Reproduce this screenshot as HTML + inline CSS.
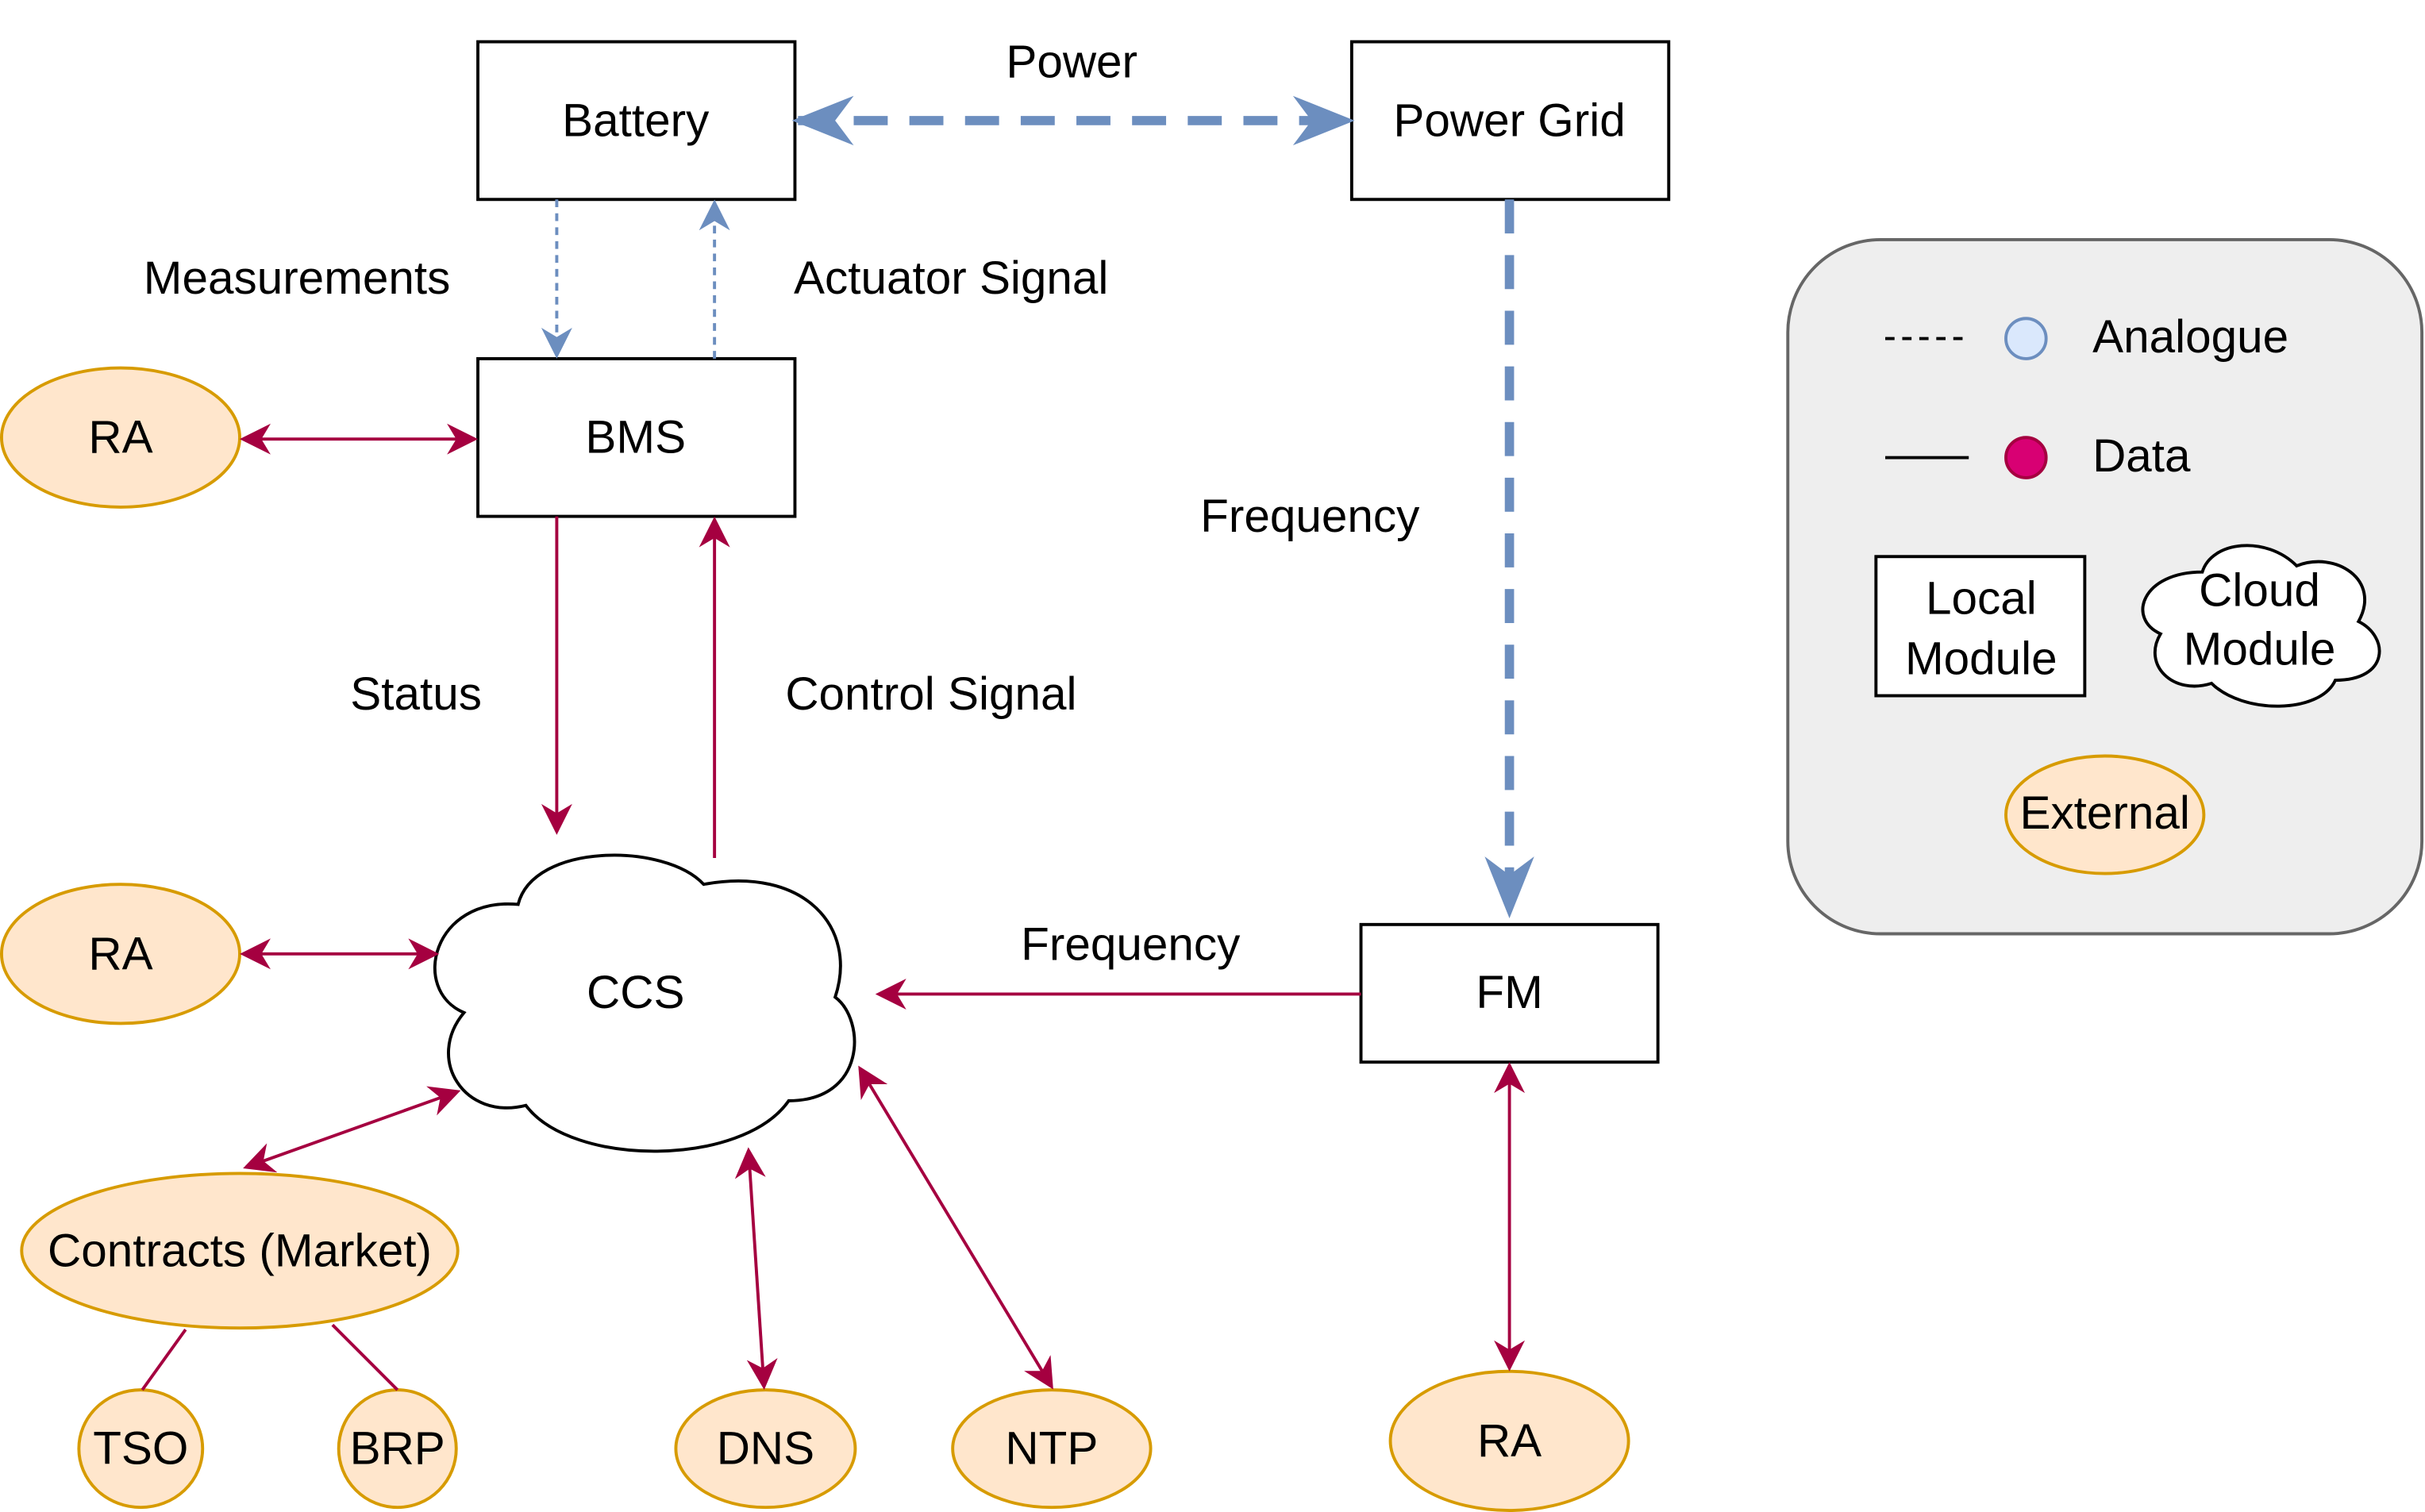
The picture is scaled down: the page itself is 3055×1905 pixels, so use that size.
<!DOCTYPE html>
<html><head><meta charset="utf-8"><style>
html,body{margin:0;padding:0;background:#fff;}
svg{display:block;}
text{font-family:"Liberation Sans",sans-serif;font-size:30px;fill:#000;text-anchor:middle;dominant-baseline:central;}
</style></head><body>
<svg width="3055" height="1905" viewBox="0 0 1568 978" preserveAspectRatio="none" xmlns="http://www.w3.org/2000/svg">
<defs>
<marker id="bB" viewBox="0 0 10 10" refX="9" refY="5" markerWidth="40" markerHeight="40" orient="auto-start-reverse" markerUnits="userSpaceOnUse"><path d="M0,1 L10,5 L0,9 L3,5 Z" fill="#6c8ebf"/></marker>
<marker id="rA" viewBox="0 0 10 10" refX="9" refY="5" markerWidth="20" markerHeight="20" orient="auto-start-reverse" markerUnits="userSpaceOnUse"><path d="M0,0 L10,5 L0,10 L3,5 Z" fill="#a50040"/></marker>
<marker id="sA" viewBox="0 0 10 10" refX="9" refY="5" markerWidth="20" markerHeight="20" orient="auto-start-reverse" markerUnits="userSpaceOnUse"><path d="M0,0 L10,5 L0,10 L3,5 Z" fill="#6c8ebf"/></marker>
</defs>
<g fill="#fff" stroke="#000" stroke-width="2">
<rect x="309" y="27" width="205" height="102"/>
<rect x="874" y="27" width="205" height="102"/>
<rect x="309" y="232" width="205" height="102"/>
<rect x="880" y="598" width="192" height="89"/>
</g>
<text x="411" y="78">Battery</text>
<text x="976" y="78">Power Grid</text>
<text x="411" y="283">BMS</text>
<text x="976" y="642">FM</text>
<line x1="516" y1="78" x2="872" y2="78" stroke="#6c8ebf" stroke-width="6" stroke-dasharray="22,14" marker-start="url(#bB)" marker-end="url(#bB)"/>
<text x="693" y="40">Power</text>
<line x1="976" y1="129" x2="976" y2="590" stroke="#6c8ebf" stroke-width="6" stroke-dasharray="22,14" marker-end="url(#bB)"/>
<text x="847" y="334">Frequency</text>
<line x1="360" y1="129" x2="360" y2="230" stroke="#6c8ebf" stroke-width="2" stroke-dasharray="5,4" marker-end="url(#sA)"/>
<line x1="462" y1="232" x2="462" y2="131" stroke="#6c8ebf" stroke-width="2" stroke-dasharray="5,4" marker-end="url(#sA)"/>
<text x="192" y="180">Measurements</text>
<text x="615" y="180">Actuator Signal</text>
<rect x="1156" y="155" width="410" height="449" rx="60" fill="#eeeeee" stroke="#666" stroke-width="2"/>
<g fill="#ffe6cc" stroke="#d79b00" stroke-width="2">
<ellipse cx="78" cy="283" rx="77" ry="45"/>
<ellipse cx="78" cy="617" rx="77" ry="45"/>
<ellipse cx="155" cy="809" rx="141" ry="50"/>
<ellipse cx="91" cy="937" rx="40" ry="38"/>
<ellipse cx="257" cy="937" rx="38" ry="38"/>
<ellipse cx="495" cy="937" rx="58" ry="38"/>
<ellipse cx="680" cy="937" rx="64" ry="38"/>
<ellipse cx="976" cy="932" rx="77" ry="45"/>
<ellipse cx="1361" cy="527" rx="64" ry="38"/>
</g>
<text x="78" y="283">RA</text>
<text x="78" y="617">RA</text>
<text x="155" y="809">Contracts (Market)</text>
<text x="91" y="937">TSO</text>
<text x="257" y="937">BRP</text>
<text x="495" y="937">DNS</text>
<text x="680" y="937">NTP</text>
<text x="976" y="932">RA</text>
<path d="M335,585 C280,580 265,640 300,655 C275,685 300,725 340,715 C370,755 480,755 510,712 C560,712 560,660 540,645 C555,600 520,560 455,572 C430,545 345,545 335,585 Z" fill="#fff" stroke="#000" stroke-width="2"/>
<text x="411" y="642">CCS</text>
<g stroke="#a50040" stroke-width="2" fill="none">
<line x1="157" y1="284" x2="307" y2="284" marker-start="url(#rA)" marker-end="url(#rA)"/>
<line x1="360" y1="334" x2="360" y2="538" marker-end="url(#rA)"/>
<line x1="462" y1="555" x2="462" y2="336" marker-end="url(#rA)"/>
<line x1="157" y1="617" x2="282" y2="617" marker-start="url(#rA)" marker-end="url(#rA)"/>
<line x1="880" y1="643" x2="568" y2="643" marker-end="url(#rA)"/>
<line x1="159" y1="755" x2="296" y2="706" marker-start="url(#rA)" marker-end="url(#rA)"/>
<line x1="484" y1="744" x2="494" y2="897" marker-start="url(#rA)" marker-end="url(#rA)"/>
<line x1="556" y1="691" x2="680" y2="897" marker-start="url(#rA)" marker-end="url(#rA)"/>
<line x1="976" y1="689" x2="976" y2="885" marker-start="url(#rA)" marker-end="url(#rA)"/>
<line x1="120" y1="860" x2="92" y2="899"/>
<line x1="215" y1="857" x2="257" y2="899"/>
</g>
<text x="269" y="449">Status</text>
<text x="602" y="449">Control Signal</text>
<text x="731" y="611">Frequency</text>
<line x1="1219" y1="219" x2="1273" y2="219" stroke="#000" stroke-width="2" stroke-dasharray="6,5"/>
<circle cx="1310" cy="219" r="13" fill="#dae8fc" stroke="#6c8ebf" stroke-width="2"/>
<text x="1353" y="218" style="text-anchor:start">Analogue</text>
<line x1="1219" y1="296" x2="1273" y2="296" stroke="#000" stroke-width="2"/>
<circle cx="1310" cy="296" r="13" fill="#d80073" stroke="#a50040" stroke-width="2"/>
<text x="1353" y="295" style="text-anchor:start">Data</text>
<rect x="1213" y="360" width="135" height="90" fill="#fff" stroke="#000" stroke-width="2"/>
<text x="1281" y="387">Local</text>
<text x="1281" y="426">Module</text>
<path d="M1424,370 C1385,370 1375,400 1397,410 C1385,430 1405,450 1430,442 C1450,462 1500,462 1510,440 C1545,440 1545,412 1525,402 C1540,375 1510,356 1485,366 C1465,346 1430,350 1424,370 Z" fill="#fff" stroke="#000" stroke-width="2"/>
<text x="1461" y="382">Cloud</text>
<text x="1461" y="420">Module</text>
<text x="1361" y="526">External</text>
</svg>
</body></html>
